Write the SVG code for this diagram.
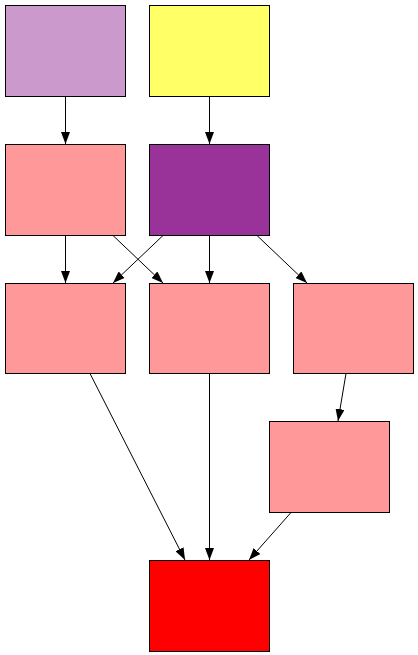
<svg xmlns="http://www.w3.org/2000/svg" width="418" height="655" viewBox="0 0 418 655">
<style>
.n{stroke:#000;stroke-width:1}
.e{stroke:#000;stroke-width:1;fill:none;marker-end:url(#ah)}
</style>
<defs>
<marker id="ah" markerWidth="12" markerHeight="9" refX="12" refY="4.5" orient="auto" markerUnits="userSpaceOnUse">
<path d="M0,0 L12,4.5 L0,9 Z" fill="#000"/>
</marker>
</defs>
<rect width="418" height="655" fill="#fff"/>
<g id="edges">
<line class="e" x1="65.5" y1="96.5" x2="65.5" y2="144"/>
<line class="e" x1="209.5" y1="96.5" x2="209.5" y2="144"/>
<line class="e" x1="65.5" y1="235.5" x2="65.5" y2="283"/>
<line class="e" x1="113" y1="235.5" x2="163" y2="283"/>
<line class="e" x1="163" y1="235.5" x2="113" y2="283"/>
<line class="e" x1="209.5" y1="235.5" x2="209.5" y2="283"/>
<line class="e" x1="257" y1="235.5" x2="307" y2="283"/>
<line class="e" x1="346" y1="373.5" x2="338" y2="421"/>
<line class="e" x1="90" y1="373.5" x2="185" y2="560"/>
<line class="e" x1="209.5" y1="373.5" x2="209.5" y2="560"/>
<line class="e" x1="291" y1="512.5" x2="249" y2="560"/>
</g>
<g id="A"><rect class="n" x="5.5" y="5.5" width="120" height="91" fill="#cc99cc"/></g>
<g id="B"><rect class="n" x="149.5" y="5.5" width="120" height="91" fill="#ffff66"/></g>
<g id="C"><rect class="n" x="5.5" y="144.5" width="120" height="91" fill="#ff9999"/></g>
<g id="D"><rect class="n" x="149.5" y="144.5" width="120" height="91" fill="#993399"/></g>
<g id="E"><rect class="n" x="5.5" y="283.5" width="120" height="90" fill="#ff9999"/></g>
<g id="F"><rect class="n" x="149.5" y="283.5" width="120" height="90" fill="#ff9999"/></g>
<g id="G"><rect class="n" x="293.5" y="283.5" width="120" height="90" fill="#ff9999"/></g>
<g id="H"><rect class="n" x="269.5" y="421.5" width="120" height="91" fill="#ff9999"/></g>
<g id="I"><rect class="n" x="149.5" y="560.5" width="120" height="91" fill="#ff0000"/></g>
</svg>
